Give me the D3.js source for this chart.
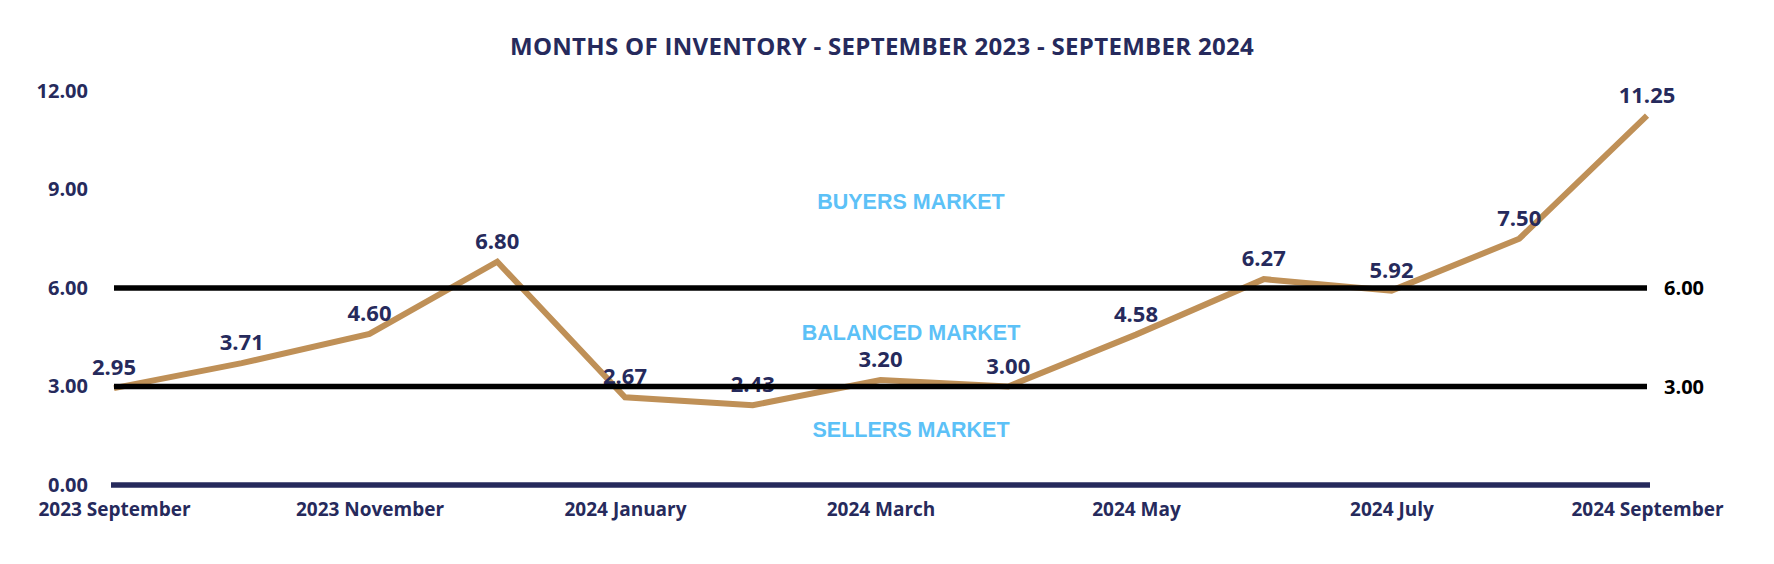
<!DOCTYPE html>
<html>
<head>
<meta charset="utf-8">
<script src="https://cdn.jsdelivr.net/npm/d3@7"></script>
<style>
  html, body { margin: 0; padding: 0; background: #ffffff; }
  svg { display: block; }
</style>
</head>
<body>
<svg id="chart" width="1774" height="564"></svg>
<script>
// ---- data ----
const categories = ["2023 September","2023 October","2023 November","2023 December","2024 January","2024 February","2024 March","2024 April","2024 May","2024 June","2024 July","2024 August","2024 September"];
const values = [2.95, 3.71, 4.60, 6.80, 2.67, 2.43, 3.20, 3.00, 4.58, 6.27, 5.92, 7.50, 11.25];
const yTicks = [0, 3, 6, 9, 12];
const xTickLabels = ["2023 September","2023 November","2024 January","2024 March","2024 May","2024 July","2024 September"];
const thresholds = [3, 6];
const marketLabels = ["BUYERS MARKET", "BALANCED MARKET", "SELLERS MARKET"];
const marketLevels = [8.65, 4.65, 1.68];
const title = "MONTHS OF INVENTORY - SEPTEMBER 2023 - SEPTEMBER 2024";

// ---- styles ----
const NAVY = "#262a5c";
const TAN = "#bf9057";
const SKY = "#5cc1f7";
const FONT = "'Open Sans', 'Noto Sans', sans-serif";

const svg = d3.select("#chart");
const x = d3.scalePoint().domain(categories).range([114, 1647]);
const y = d3.scaleLinear().domain([0, 12]).range([485, 91]);

// title
svg.append("text")
  .attr("x", 882).attr("y", 55)
  .attr("text-anchor", "middle")
  .attr("font-family", FONT).attr("font-weight", 700).attr("font-size", 24)
  .attr("letter-spacing", 0.3)
  .attr("fill", NAVY)
  .text(title);

// y axis (labels only)
const yAxis = svg.append("g")
  .attr("transform", `translate(${x.range()[0]},0)`)
  .call(d3.axisLeft(y).tickValues(yTicks).tickFormat(d3.format(".2f")).tickSize(0).tickPadding(26));
yAxis.select(".domain").remove();
yAxis.selectAll("text")
  .attr("font-family", FONT).attr("font-weight", 700).attr("font-size", 20)
  .attr("fill", NAVY);

// x axis labels
const xAxis = svg.append("g")
  .attr("transform", `translate(0,${y(0)})`)
  .call(d3.axisBottom(x).tickValues(xTickLabels).tickSize(0).tickPadding(18));
xAxis.select(".domain").remove();
xAxis.selectAll("text")
  .attr("font-family", FONT).attr("font-weight", 700).attr("font-size", 19)
  .attr("fill", NAVY);

// navy baseline
svg.append("line")
  .attr("x1", x.range()[0] - 3).attr("x2", x.range()[1] + 3)
  .attr("y1", y(0)).attr("y2", y(0))
  .attr("stroke", NAVY).attr("stroke-width", 5.5);

// market labels
svg.append("g").selectAll("text")
  .data(marketLabels)
  .join("text")
  .attr("x", 911)
  .attr("y", (d, i) => y(marketLevels[i]))
  .attr("dy", "0.35em")
  .attr("text-anchor", "middle")
  .attr("font-family", "'Liberation Sans', Arial, sans-serif")
  .attr("font-weight", 700).attr("font-size", 21.5)
  .attr("fill", SKY)
  .text(d => d);

// data line
const line = d3.line()
  .x((d, i) => x(categories[i]))
  .y(d => y(d));
svg.append("path")
  .datum(values)
  .attr("d", line)
  .attr("fill", "none")
  .attr("stroke", TAN)
  .attr("stroke-width", 6)
  .attr("stroke-linejoin", "miter");

// data labels
svg.append("g").selectAll("text")
  .data(values)
  .join("text")
  .attr("x", (d, i) => x(categories[i]))
  .attr("y", d => y(d) - 13)
  .attr("text-anchor", "middle")
  .attr("font-family", FONT).attr("font-weight", 700).attr("font-size", 22)
  .attr("fill", NAVY)
  .text(d => d3.format(".2f")(d));

// threshold lines
svg.append("g").selectAll("line")
  .data(thresholds)
  .join("line")
  .attr("x1", x.range()[0]).attr("x2", x.range()[1])
  .attr("y1", d => y(d)).attr("y2", d => y(d))
  .attr("stroke", "#000").attr("stroke-width", 5.5);

// threshold labels on the right
svg.append("g").selectAll("text")
  .data(thresholds)
  .join("text")
  .attr("x", x.range()[1] + 17)
  .attr("y", d => y(d))
  .attr("dy", "0.35em")
  .attr("font-family", FONT).attr("font-weight", 700).attr("font-size", 20)
  .attr("fill", "#000")
  .text(d => d3.format(".2f")(d));
</script>
</body>
</html>
